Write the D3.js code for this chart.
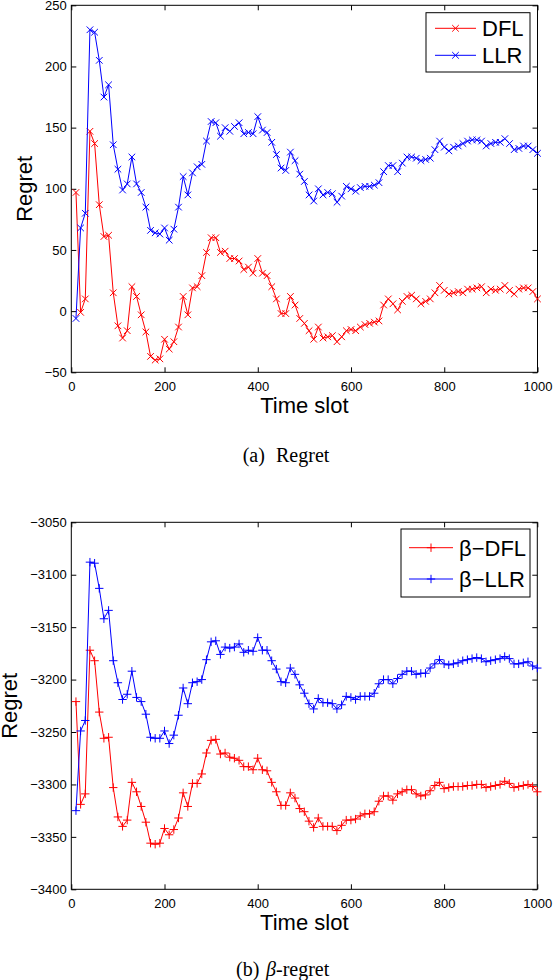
<!DOCTYPE html>
<html>
<head>
<meta charset="utf-8">
<script src="https://cdn.jsdelivr.net/npm/d3@7"></script>
<style>
  body { margin: 0; background: #fff; }
  svg { display: block; }
</style>
</head>
<body>
<script>
let width = 554, height = 980;

// time slots sampled every 10 slots
let timeSlots = d3.range(10, 1001, 10);
let timeTicks = [0, 200, 400, 600, 800, 1000];
let regretTicks = [-50, 0, 50, 100, 150, 200, 250];
let betaTicks = [-3400, -3350, -3300, -3250, -3200, -3150, -3100, -3050];

// (a) Regret
let dflRegret = [97, -1, 10, 147, 137, 87, 61, 62, 15, -12,
    -22, -16, 20, 12, -3, -17, -37, -40, -39, -23,
    -31, -25, -13, 12, -3, 19, 20, 29, 48, 60,
    60, 48, 49, 43, 43, 41, 34, 36, 31, 43,
    31, 29, 20, 10, -2, -2, 12, 5, -6, -10,
    -16, -23, -13, -22, -21, -20, -25, -21, -16, -15,
    -16, -13, -11, -10, -9, -8, 5, 10, 6, 1,
    8, 12, 13, 10, 6, 8, 10, 15, 21, 17,
    14, 15, 16, 15, 18, 18, 19, 20, 15, 18,
    17, 18, 21, 17, 14, 18, 19, 19, 16, 10];
let llrRegret = [-6, 68, 80, 230, 228, 205, 175, 185, 136, 116,
    99, 104, 126, 104, 97, 85, 66, 64, 63, 68,
    58, 67, 85, 110, 95, 113, 118, 120, 139, 155,
    154, 143, 150, 147, 151, 154, 145, 146, 145, 159,
    148, 146, 138, 128, 117, 115, 130, 123, 112, 106,
    95, 90, 100, 95, 97, 96, 89, 94, 102, 100,
    98, 101, 102, 102, 103, 105, 114, 119, 119, 114,
    121, 126, 126, 125, 123, 124, 125, 132, 139, 134,
    131, 134, 135, 137, 139, 140, 140, 139, 135, 137,
    138, 138, 141, 137, 132, 133, 135, 135, 132, 129];

// (b) beta-regret
let dflBeta = [-3221, -3319, -3309, -3172, -3182, -3231, -3256, -3255, -3303, -3331,
    -3340, -3334, -3298, -3307, -3321, -3336, -3356, -3357, -3356, -3342,
    -3348, -3343, -3332, -3308, -3321, -3299, -3299, -3290, -3270, -3258,
    -3257, -3271, -3270, -3274, -3275, -3277, -3283, -3283, -3286, -3275,
    -3286, -3287, -3298, -3307, -3320, -3320, -3308, -3313, -3323, -3326,
    -3335, -3341, -3332, -3340, -3340, -3340, -3344, -3339, -3334, -3334,
    -3333, -3330, -3328, -3328, -3326, -3316, -3311, -3311, -3315, -3309,
    -3307, -3305, -3305, -3309, -3311, -3310, -3306, -3301, -3298, -3304,
    -3303, -3302, -3302, -3302, -3301, -3301, -3300, -3300, -3303, -3302,
    -3301, -3300, -3297, -3299, -3303, -3302, -3301, -3300, -3302, -3307];
let llrBeta = [-3325, -3249, -3239, -3088, -3089, -3113, -3142, -3134, -3182, -3203,
    -3219, -3214, -3192, -3217, -3221, -3233, -3255, -3256, -3256, -3249,
    -3261, -3253, -3234, -3208, -3223, -3203, -3202, -3200, -3181, -3164,
    -3163, -3176, -3169, -3170, -3169, -3166, -3174, -3172, -3173, -3160,
    -3172, -3172, -3182, -3190, -3202, -3203, -3189, -3195, -3205, -3213,
    -3223, -3228, -3218, -3222, -3222, -3223, -3228, -3224, -3216, -3217,
    -3219, -3216, -3216, -3216, -3213, -3204, -3200, -3200, -3204, -3199,
    -3195, -3192, -3192, -3195, -3194, -3194, -3189, -3185, -3181, -3185,
    -3186, -3185, -3184, -3182, -3181, -3180, -3179, -3180, -3183, -3182,
    -3181, -3180, -3178, -3180, -3185, -3185, -3184, -3183, -3187, -3189];

let sans = '"Liberation Sans", Arial, Helvetica, sans-serif';
let serif = '"Liberation Serif", "Times New Roman", serif';

let crossPath = 'M-3.3,-3.3L3.3,3.3M-3.3,3.3L3.3,-3.3';
let plusPath = 'M-4.2,0H4.2M0,-4.2V4.2';
let numFormat = d3.format('d');

let svg = d3.select('body')
    .append('svg')
    .attr('width', width)
    .attr('height', height);

function drawPanel(p) {
    let x = d3.scaleLinear().domain([0, 1000]).range([p.left, p.right]);
    let y = d3.scaleLinear().domain(p.yDomain).range([p.bottom, p.top]);

    let g = svg.append('g');

    // axes, ticks pointing inward on every side
    let bottomAxis = g.append('g')
        .attr('transform', `translate(0,${p.bottom})`)
        .call(d3.axisBottom(x).tickValues(timeTicks).tickFormat(numFormat)
            .tickSizeInner(-5).tickSizeOuter(0).tickPadding(9));
    let leftAxis = g.append('g')
        .attr('transform', `translate(${p.left},0)`)
        .call(d3.axisLeft(y).tickValues(p.yTicks).tickFormat(numFormat)
            .tickSizeInner(-5).tickSizeOuter(0).tickPadding(4.6));
    g.append('g')
        .attr('transform', `translate(0,${p.top})`)
        .call(d3.axisTop(x).tickValues(timeTicks).tickSizeInner(-5).tickSizeOuter(0).tickFormat(''));
    g.append('g')
        .attr('transform', `translate(${p.right},0)`)
        .call(d3.axisRight(y).tickValues(p.yTicks).tickSizeInner(-5).tickSizeOuter(0).tickFormat(''));

    g.selectAll('.domain').remove();
    g.selectAll('.tick line').attr('stroke', '#000');
    [bottomAxis, leftAxis].forEach(a => {
        a.attr('font-family', sans).attr('font-size', 13);
        a.selectAll('text').attr('fill', '#000');
    });

    g.append('rect')
        .attr('x', p.left)
        .attr('y', p.top)
        .attr('width', p.right - p.left)
        .attr('height', p.bottom - p.top)
        .attr('fill', 'none')
        .attr('stroke', '#000')
        .attr('stroke-width', 1);

    let line = d3.line()
        .x((d, i) => x(timeSlots[i]))
        .y(d => y(d));

    p.series.forEach(s => {
        g.append('path')
            .datum(s.values)
            .attr('fill', 'none')
            .attr('stroke', s.color)
            .attr('stroke-width', 1)
            .attr('d', line);
        g.selectAll(null)
            .data(s.values)
            .enter()
            .append('path')
            .attr('transform', (d, i) => `translate(${x(timeSlots[i])},${y(d)})`)
            .attr('d', p.marker)
            .attr('fill', 'none')
            .attr('stroke', s.color)
            .attr('stroke-width', 1);
    });

    // axis titles
    g.append('text')
        .attr('x', (p.left + p.right) / 2)
        .attr('y', p.bottom + 41)
        .attr('text-anchor', 'middle')
        .attr('font-family', sans)
        .attr('font-size', 22)
        .text('Time slot');
    g.append('text')
        .attr('transform', `translate(${p.yLabelX},${(p.top + p.bottom) / 2}) rotate(-90)`)
        .attr('text-anchor', 'middle')
        .attr('font-family', sans)
        .attr('font-size', 22)
        .text('Regret');

    // legend
    let lg = p.legend;
    g.append('rect')
        .attr('x', lg.x0)
        .attr('y', lg.y0)
        .attr('width', lg.x1 - lg.x0)
        .attr('height', lg.y1 - lg.y0)
        .attr('fill', '#fff')
        .attr('stroke', '#000')
        .attr('stroke-width', 1);
    p.series.forEach((s, i) => {
        let ry = lg.rows[i];
        g.append('line')
            .attr('x1', lg.lineX0).attr('x2', lg.lineX1)
            .attr('y1', ry).attr('y2', ry)
            .attr('stroke', s.color)
            .attr('stroke-width', 1);
        g.append('path')
            .attr('transform', `translate(${(lg.lineX0 + lg.lineX1) / 2},${ry})`)
            .attr('d', p.marker)
            .attr('fill', 'none')
            .attr('stroke', s.color);
        g.append('text')
            .attr('x', lg.textX)
            .attr('y', ry + 8)
            .attr('font-family', sans)
            .attr('font-size', 22)
            .text(s.name);
    });
}

drawPanel({
    left: 71.3, right: 537.5, top: 5.3, bottom: 372.3,
    yDomain: [-50, 250], yTicks: regretTicks,
    yLabelX: 31.5,
    marker: crossPath,
    series: [
        {name: 'DFL', values: dflRegret, color: '#ff0000'},
        {name: 'LLR', values: llrRegret, color: '#0000ff'}
    ],
    legend: {x0: 426, x1: 530, y0: 12.7, y1: 72, lineX0: 435, lineX1: 476, textX: 482, rows: [28.3, 55.3]}
});

drawPanel({
    left: 71.3, right: 537.3, top: 522.3, bottom: 889.3,
    yDomain: [-3400, -3050], yTicks: betaTicks,
    yLabelX: 17,
    marker: plusPath,
    series: [
        {name: 'β\u2212DFL', values: dflBeta, color: '#ff0000'},
        {name: 'β\u2212LLR', values: llrBeta, color: '#0000ff'}
    ],
    legend: {x0: 401, x1: 530, y0: 529, y1: 597, lineX0: 409, lineX1: 453, textX: 459, rows: [547.7, 579]}
});

// sub-captions
let capA = svg.append('text')
    .attr('y', 461.5)
    .attr('font-family', serif)
    .attr('font-size', 20);
capA.append('tspan').attr('x', 242.7).text('(a)');
capA.append('tspan').attr('x', 276).text('Regret');

let capB = svg.append('text')
    .attr('y', 976)
    .attr('font-family', serif)
    .attr('font-size', 20);
capB.append('tspan').attr('x', 236).text('(b)');
capB.append('tspan').attr('x', 266).attr('font-style', 'italic').text('β');
capB.append('tspan').text('-regret');
</script>
</body>
</html>
